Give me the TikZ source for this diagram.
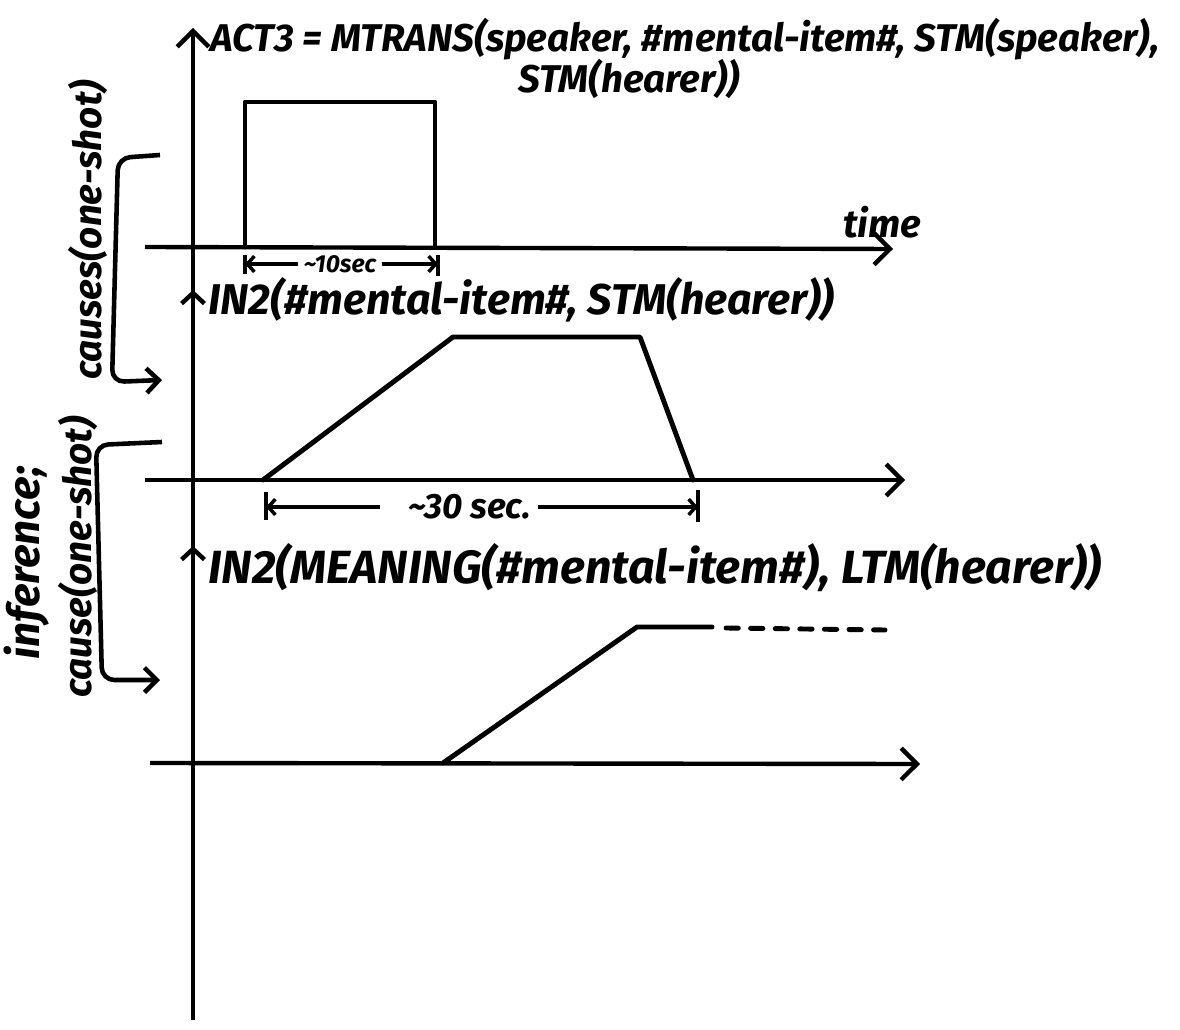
\documentclass[tikz,border=0pt]{standalone}
\usepackage{fontspec}
\setmainfont{Fira Sans}
\usetikzlibrary{arrows.meta, positioning}

\tikzset{
  hand/.style={font=\fontsize{22}{26}\selectfont\bfseries\itshape, inner sep=0pt},
  smallhand/.style={font=\fontsize{14}{17}\selectfont\bfseries\itshape, inner sep=0pt},
  axis/.style={line width=2.5pt, -{Straight Barb[length=9pt,width=18pt,line width=2.5pt]}},
  upmark/.style={line width=2.5pt, -{Straight Barb[length=6pt,width=13pt,line width=2.5pt]}},
  curve/.style={line width=2.8pt, line join=round, line cap=round},
  bracket/.style={line width=2.6pt, rounded corners=7pt, -{Straight Barb[length=7pt,width=14pt,line width=2.6pt]}},
  dim/.style={line width=2pt, -{Straight Barb[length=4pt,width=9pt,line width=2pt]}},
  tick/.style={line width=2.2pt},
}

\begin{document}
\begin{tikzpicture}[x=0.02cm, y=-0.02cm]
  \useasboundingbox (0,0) rectangle (1180,1030);

  % vertical axis
  \coordinate (bottom) at (193,1020);
  \coordinate (top) at (193,28);
  \coordinate (up1s) at (193,305);
  \coordinate (up1) at (193,290);
  \coordinate (up2s) at (193,560);
  \coordinate (up2) at (193,546);
  \draw[axis] (bottom) -- (top);
  \draw[upmark] (up1s) -- (up1);
  \draw[upmark] (up2s) -- (up2);

  % time axes
  \coordinate (a1l) at (145,247);
  \coordinate (a1r) at (893,249);
  \coordinate (a2l) at (145,480);
  \coordinate (a2r) at (905,480);
  \coordinate (a3l) at (150,763);
  \coordinate (a3r) at (920,764);
  \draw[axis] (a1l) -- (a1r);
  \draw[axis] (a2l) -- (a2r);
  \draw[axis] (a3l) -- (a3r);

  % labels
  \node[hand, anchor=west] (act1) at (210,39) {ACT3 = MTRANS(speaker, \#mental-item\#, STM(speaker),};
  \node[hand, anchor=west] (act2) at (518,79) {STM(hearer))};
  \node[hand] (time) at (882,222) {time};
  \node[hand, anchor=west, font=\fontsize{24.5}{28}\selectfont\bfseries\itshape] (in1) at (208,300) {IN2(\#mental-item\#, STM(hearer))};
  \node[hand, anchor=west, font=\fontsize{26.5}{30}\selectfont\bfseries\itshape] (in2) at (208,568) {IN2(MEANING(\#mental-item\#), LTM(hearer))};

  \node[hand, rotate=90] (cs1) at (88,230) {causes(one-shot)};
  \node[hand, rotate=90, font=\fontsize{25}{28}\selectfont\bfseries\itshape] (inf) at (27,563) {inference;};
  \node[hand, rotate=90] (cs2) at (78,557) {cause(one-shot)};

  % signals
  \draw[curve] (245,247) -- (245,102) -- (435,102) -- (435,247);
  \draw[curve] (263,480) -- (453,337) -- (640,337) -- (693,480);
  \draw[curve] (443,763) -- (637,627) -- (712,627);
  \draw[curve, dash pattern=on 7pt off 7pt] (726,628) -- (885,630);

  % durations
  \coordinate (t1l) at (245,264);
  \coordinate (t1r) at (438,264);
  \node[smallhand] (d10) at (340,264) {\textasciitilde10sec};
  \draw[tick] (245,255) -- (245,274) (438,255) -- (438,276);
  \draw[dim] ([xshift=-3pt]d10.west) -- (t1l);
  \draw[dim] ([xshift=3pt]d10.east) -- (t1r);

  \coordinate (t2l) at (266,507);
  \coordinate (t2r) at (698,507);
  \node[hand, font=\fontsize{20}{23}\selectfont\bfseries\itshape] (d30) at (470,507) {\textasciitilde30 sec.};
  \draw[tick] (266,492) -- (266,520) (698,490) -- (698,522);
  \draw[dim] ([xshift=-16pt]d30.west) -- (t2l);
  \draw[dim] ([xshift=4pt]d30.east) -- (t2r);

  % causal brackets
  \coordinate (b1t) at (160,155);
  \coordinate (b1a) at (162,380);
  \coordinate (b2t) at (162,442);
  \coordinate (b2a) at (160,680);
  \draw[bracket] (b1t) -- (118,158) -- (112,382) -- (b1a);
  \draw[bracket] (b2t) -- (96,445) -- (102,680) -- (b2a);
\end{tikzpicture}
\end{document}
